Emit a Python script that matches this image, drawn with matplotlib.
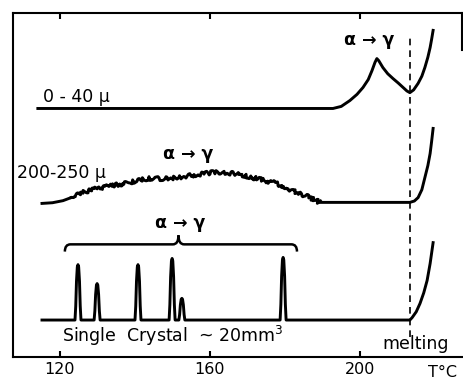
import matplotlib.pyplot as plt
from matplotlib.path import Path
from matplotlib.patches import PathPatch

# 0 - 40 micron powder
t_fine = [114.1, 192.8, 195.0, 197.3, 199.2, 200.8, 202.2, 203.2, 204.0, 204.5,
          205.0, 206.1, 207.4, 208.8, 210.2, 211.5, 212.5, 213.3, 214.3, 215.5,
          216.5, 217.3, 218.1, 218.7, 219.1, 219.5]
y_fine = [7.21, 7.21, 7.27, 7.44, 7.62, 7.82, 8.05, 8.31, 8.55, 8.66,
          8.60, 8.40, 8.22, 8.08, 7.95, 7.82, 7.72, 7.67, 7.75, 7.94,
          8.15, 8.40, 8.70, 8.98, 9.22, 9.48]

# 200 - 250 micron powder
t_mid = [115.2, 118.0, 120.8, 123.0, 125.3, 127.6, 129.9, 134.1, 138.7, 143.2,
         149.3, 154.7, 160.8, 167.2, 172.5, 177.9, 180.0, 183.2, 186.7, 189.3,
         213.3, 214.5, 215.5, 216.5, 217.3, 218.1, 218.7, 219.1, 219.5]
y_mid = [4.45, 4.47, 4.53, 4.62, 4.74, 4.82, 4.88, 4.97, 5.06, 5.17,
         5.17, 5.26, 5.35, 5.32, 5.17, 5.03, 4.88, 4.77, 4.62, 4.48,
         4.48, 4.52, 4.62, 4.85, 5.20, 5.55, 5.90, 6.25, 6.63]
noisy_from, noisy_to = 3, 19  # index range of the jagged part

# single crystal
base_single = 1.06
peak_pos = [124.8, 129.9, 140.8, 149.9, 152.5, 179.5]
peak_top = [2.67, 2.12, 2.67, 2.85, 1.69, 2.88]
t_melt_rise = [213.3, 213.9, 215.0, 216.0, 217.0, 217.9, 218.7, 219.5]
y_melt_rise = [1.06, 1.13, 1.30, 1.54, 1.85, 2.21, 2.70, 3.31]

t_melting = 213.3
xticks = [120, 160, 200]

# peak outline (shape only)
prof_dx = [-0.8, -0.6, -0.4, -0.18, 0, 0.18, 0.4, 0.6, 0.8]
prof_f = [0, 0.25, 0.7, 0.96, 1, 0.96, 0.7, 0.25, 0]

t_single = [115.2]
y_single = [base_single]
for p, h in zip(peak_pos, peak_top):
    for dx, f in zip(prof_dx, prof_f):
        t_single.append(p + dx)
        y_single.append(base_single + f * (h - base_single))
t_single += t_melt_rise
y_single += y_melt_rise

fig = plt.figure(figsize=(4.63, 3.81), dpi=100)
ax = fig.add_axes([13 / 463, 24.5 / 381, 448.5 / 463, 344 / 381])
ax.set_xlim(107.47, 227.07)
ax.set_ylim(0, 10)

lw = 2.1
ax.plot(t_fine, y_fine, color="black", lw=lw)
ax.plot(t_mid[:noisy_from + 1], y_mid[:noisy_from + 1], color="black", lw=lw)
noisy, = ax.plot(t_mid[noisy_from:noisy_to + 1], y_mid[noisy_from:noisy_to + 1],
                 color="black", lw=lw)
noisy.set_sketch_params(scale=2.0, length=4, randomness=8)
ax.plot(t_mid[noisy_to:], y_mid[noisy_to:], color="black", lw=lw)
ax.plot(t_single, y_single, color="black", lw=lw, solid_joinstyle="round")

ax.plot([t_melting, t_melting], [0.58, 9.27], color="black", lw=1.2,
        dashes=(4, 3))

# curly brace over the crystal peaks
bl, bt, br = 121.3, 151.6, 183.2
by, ey, ty = 3.26, 3.05, 3.52
verts = [(bl, ey), (bl, by), (bl + 1.5, by),
         (bt - 1.5, by), (bt, by), (bt, ty),
         (bt, by), (bt + 1.5, by),
         (br - 1.5, by), (br, by), (br, ey)]
codes = [Path.MOVETO, Path.CURVE3, Path.CURVE3,
         Path.LINETO, Path.CURVE3, Path.CURVE3,
         Path.CURVE3, Path.CURVE3,
         Path.LINETO, Path.CURVE3, Path.CURVE3]
ax.add_patch(PathPatch(Path(verts, codes), fill=False, lw=1.8, color="black"))

fs = 12.5
ax.text(115.5, 7.41, "0 - 40 μ", fontsize=fs, va="baseline")
ax.text(108.5, 5.20, "200-250 μ", fontsize=fs, va="baseline")
ax.text(202.4, 9.19, "α → γ", fontsize=fs, fontweight="bold", ha="center", va="center")
ax.text(154.3, 5.90, "α → γ", fontsize=fs, fontweight="bold", ha="center", va="center")
ax.text(152.0, 3.87, "α → γ", fontsize=fs, fontweight="bold", ha="center", va="center")
ax.text(120.5, 0.41, "Single  Crystal  ~ 20mm$^3$", fontsize=fs, va="baseline")
ax.text(206.1, 0.23, "melting", fontsize=fs, va="baseline")
ax.text(222.0, -0.47, "T°C", fontsize=11.5, ha="center", va="center", clip_on=False)

ax.set_xticks(xticks)
ax.set_yticks([])
ax.tick_params(axis="x", direction="in", length=4, width=1.5, pad=4,
               labelsize=11.5, top=True)
for s in ["left", "bottom", "top"]:
    ax.spines[s].set_linewidth(1.5)
ax.spines["right"].set_linewidth(1.5)
ax.spines["right"].set_bounds(8.9, 10)

fig.savefig("out.png", dpi=100)
